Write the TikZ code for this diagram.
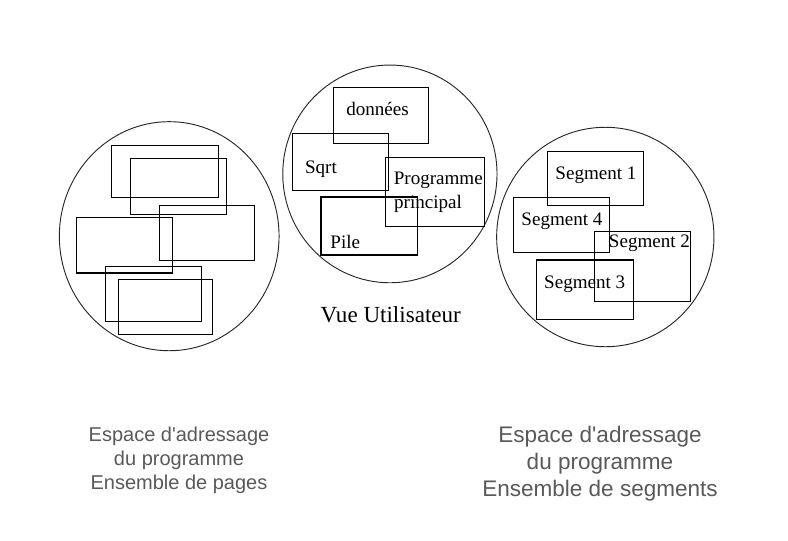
\documentclass[tikz,border=0pt]{standalone}
\usepackage{fontspec}
\setmainfont{Liberation Serif}
\newfontfamily\arialfont{Liberation Sans}
\usepackage{tikz}
\usetikzlibrary{shapes.geometric, positioning}

\definecolor{captiongray}{HTML}{595959}

\tikzset{
	zone/.style = {draw = black!85, line width = 0.7pt, shape = ellipse, inner sep = 0pt},
	page/.style = {draw, line width = 0.8pt, shape = rectangle, inner sep = 0pt},
	boxtext/.style = {anchor = base, inner sep = 0pt, font = \fontsize{14.3}{16}\selectfont},
	captiontext/.style = {anchor = base, inner sep = 0pt, align = center, text = captiongray}
}

\begin{document}
\begin{tikzpicture}[x = 0.75pt, y = -0.75pt]
	\useasboundingbox (0, 0) rectangle (788, 540);

	% the three address spaces
	\node[zone, minimum width = 164.8pt, minimum height = 171.8pt] (pages) at (169.2, 236.2) {};
	\node[zone, minimum width = 160.7pt, minimum height = 163.3pt] (user) at (389.9, 173.9) {};
	\node[zone, minimum width = 163pt, minimum height = 164.6pt] (segs) at (605.3, 237) {};

	% pages
	\node[page, minimum width = 80pt, minimum height = 38.7pt] (p1) at (165, 171.5) {};
	\node[page, minimum width = 71.7pt, minimum height = 41.7pt] (p2) at (178.5, 186.5) {};
	\node[page, minimum width = 71pt, minimum height = 41pt] (p3) at (207, 233) {};
	\node[page, minimum width = 72pt, minimum height = 41.5pt] (p4) at (124.3, 245.3) {};
	\node[page, minimum width = 72.3pt, minimum height = 41.5pt] (p5) at (153.5, 294) {};
	\node[page, minimum width = 70.5pt, minimum height = 41.3pt] (p6) at (165.3, 306.8) {};

	% user view
	\node[page, minimum width = 71.3pt, minimum height = 42pt] (u1) at (380.8, 115.3) {};
	\node[page, minimum width = 71.8pt, minimum height = 42.5pt] (u2) at (340.2, 161.7) {};
	\node[page, minimum width = 74.3pt, minimum height = 51.5pt] (u3) at (434.8, 191.7) {};
	\node[page, minimum width = 72.5pt, minimum height = 43.5pt] (u4) at (369.3, 226) {};

	\node[boxtext] (t1) at (377.5, 115) {données};
	\node[boxtext] (t2) at (321, 173) {Sqrt};
	\node[boxtext] (t3) at (438.3, 184) {Programme};
	\node[boxtext] (t4) at (428, 208) {principal};
	\node[boxtext] (t5) at (345.3, 248) {Pile};

	\node[anchor = base, inner sep = 0pt, font = \fontsize{17.3}{20}\selectfont] (view) at (390.8, 322) {Vue Utilisateur};

	% segments
	\node[page, minimum width = 72pt, minimum height = 40.7pt] (s1) at (595.3, 178.8) {};
	\node[page, minimum width = 71.8pt, minimum height = 41.5pt] (s4) at (561.2, 225) {};
	\node[page, minimum width = 71.7pt, minimum height = 52.8pt] (s2) at (642.5, 266.5) {};
	\node[page, minimum width = 73pt, minimum height = 44.3pt] (s3) at (584.7, 289.5) {};

	\node[boxtext] (g1) at (596, 179) {Segment 1};
	\node[boxtext] (g4) at (562, 225) {Segment 4};
	\node[boxtext] (g2) at (649.5, 247.5) {Segment 2};
	\node[boxtext] (g3) at (584.7, 288) {Segment 3};

	% captions
	\node[captiontext, font = \arialfont\fontsize{15}{18}\selectfont] (cap1) at (179, 489) {Espace d'adressage\\du programme\\Ensemble de pages};
	\node[captiontext, font = \arialfont\fontsize{16.9}{20.25}\selectfont] (cap2) at (600, 496) {Espace d'adressage\\du programme\\Ensemble de segments};

\end{tikzpicture}
\end{document}
